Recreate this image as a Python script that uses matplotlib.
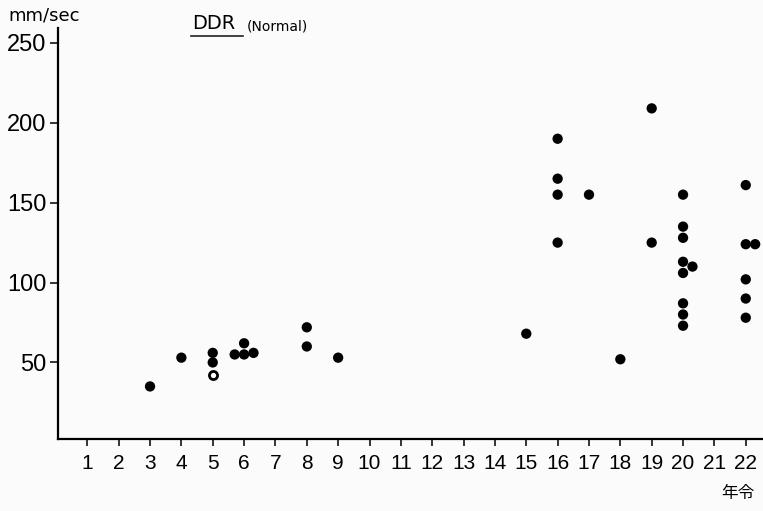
import matplotlib
matplotlib.use("Agg")
import matplotlib.pyplot as plt
from matplotlib.lines import Line2D

# DDR (Normal) by age
ages = [3, 4, 5, 5, 5.7, 6, 6, 6.3, 8, 8, 9, 15,
        16, 16, 16, 16, 17, 18, 19, 19,
        20, 20, 20, 20, 20.3, 20, 20, 20, 20,
        22, 22, 22.3, 22, 22, 22]
ddr = [35, 53, 56, 50, 55, 62, 55, 56, 72, 60, 53, 68,
       190, 165, 155, 125, 155, 52, 209, 125,
       155, 135, 128, 113, 110, 106, 87, 80, 73,
       161, 124, 124, 102, 90, 78]
open_ages = [5]
open_ddr = [42]

x_ticks = list(range(1, 23))
y_ticks = [50, 100, 150, 200, 250]

TICK_FONT = ["Liberation Sans Narrow", "DejaVu Sans Condensed", "Liberation Sans"]
BG = "#fbfbfb"

fig = plt.figure(figsize=(7.63, 5.11), dpi=100, facecolor=BG)
ax = fig.add_axes([0.0754, 0.1409, 0.9246, 0.804])
ax.set_facecolor(BG)

ax.scatter(ages, ddr, s=55, color="black", edgecolors="none", zorder=3, clip_on=False)
ax.scatter(open_ages, open_ddr, s=34, facecolors="white", edgecolors="black",
           linewidths=2.0, zorder=3, clip_on=False)

ax.set_xlim(0.05, 22.55)
ax.set_ylim(2.1, 259.2)

for side in ["top", "right"]:
    ax.spines[side].set_visible(False)
for side in ["left", "bottom"]:
    ax.spines[side].set_linewidth(1.6)
    ax.spines[side].set_color("black")

ax.set_xticks(x_ticks)
ax.set_xticklabels([str(t) for t in x_ticks], family=TICK_FONT, fontsize=15,
                   fontstretch="condensed")
ax.set_yticks(y_ticks)
ax.set_yticklabels([str(t) for t in y_ticks], family=TICK_FONT, fontsize=17,
                   fontstretch="condensed")
ax.tick_params(axis="x", direction="out", length=5, width=1.1, pad=6)
ax.tick_params(axis="y", direction="out", length=6, width=1.1, pad=2)

fig.text(0.0105, 0.9706, "mm/sec", fontsize=13, va="center", ha="left")
fig.text(0.2512, 0.9544, "DDR", fontsize=14, va="center", ha="left")
fig.text(0.3233, 0.948, "(Normal)", fontsize=10, va="center", ha="left")
fig.add_artist(Line2D([0.2503, 0.3185], [0.930, 0.930], transform=fig.transFigure,
                      color="#222222", linewidth=1.2))
fig.text(0.967, 0.0333, "年令", fontsize=12, va="center", ha="center",
         family=["Noto Sans CJK JP", "DejaVu Sans"])

fig.savefig("out.png", dpi=100, facecolor=BG)
